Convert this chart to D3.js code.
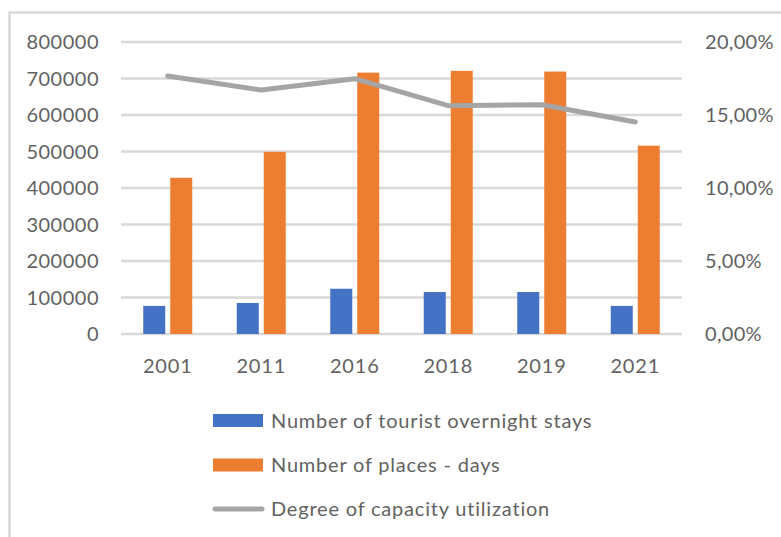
<!DOCTYPE html>
<html>
<head>
<meta charset="utf-8">
<script src="https://cdn.jsdelivr.net/npm/d3@7"></script>
<style>
  html, body { margin: 0; padding: 0; background: #fff; }
  svg { display: block; }
  text { font-family: Lato, "Open Sans", sans-serif; fill: #626262; }
</style>
</head>
<body>
<svg id="chart" width="781" height="537"></svg>
<script>
const years = ["2001", "2011", "2016", "2018", "2019", "2021"];
const overnightStays = [77000, 85000, 124000, 115000, 115000, 77000];
const placesDays = [428000, 499000, 716000, 721000, 719000, 516000];
const capacityUtil = [0.1767, 0.1671, 0.1749, 0.1564, 0.1570, 0.1452];
const leftTicks = [0, 100000, 200000, 300000, 400000, 500000, 600000, 700000, 800000];
const rightTicks = [0, 0.05, 0.10, 0.15, 0.20];
const seriesNames = ["Number of tourist overnight stays", "Number of places - days", "Degree of capacity utilization"];
const colors = ["#4472C4", "#ED7D31", "#A5A5A5"];

const svg = d3.select("#chart");
const W = 781, H = 537;
const plot = { left: 121, right: 682, top: 42, bottom: 334 };

// outer chart border (only top and left visible)
svg.append("rect")
  .attr("x", 9.5).attr("y", 12.5)
  .attr("width", W + 20).attr("height", H + 20)
  .attr("fill", "none").attr("stroke", "#d9d9d9").attr("stroke-width", 2.5);

const x = d3.scaleBand().domain(years).range([plot.left, plot.right]).paddingInner(0).paddingOuter(0);
const yL = d3.scaleLinear().domain([0, 800000]).range([plot.bottom, plot.top]);
const yR = d3.scaleLinear().domain([0, 0.20]).range([plot.bottom, plot.top]);
const xs = d3.scaleBand().domain([0, 1]).range([-24.5, 24.5]).paddingInner(5 / 27).paddingOuter(0);

// gridlines
svg.append("g").selectAll("line").data(leftTicks).join("line")
  .attr("x1", plot.left).attr("x2", plot.right)
  .attr("y1", d => yL(d)).attr("y2", d => yL(d))
  .attr("stroke", "#d9d9d9").attr("stroke-width", 2.5);

// left axis labels
const fmtL = d3.format("d");
svg.append("g").selectAll("text").data(leftTicks).join("text")
  .attr("x", 99).attr("y", d => yL(d) + 7)
  .attr("text-anchor", "end").attr("font-size", 20).attr("letter-spacing", 0.5)
  .text(d => fmtL(d));

// right axis labels
const fmtR = d => (d * 100).toFixed(2).replace(".", ",") + "%";
svg.append("g").selectAll("text").data(rightTicks).join("text")
  .attr("x", 705).attr("y", d => yR(d) + 7)
  .attr("text-anchor", "start").attr("font-size", 20).attr("letter-spacing", 0.3)
  .text(fmtR);

// x labels
svg.append("g").selectAll("text").data(years).join("text")
  .attr("x", d => x(d) + x.bandwidth() / 2).attr("y", 373)
  .attr("text-anchor", "middle").attr("font-size", 20).attr("letter-spacing", 0.8)
  .text(d => d);

// bars
const barSeries = [overnightStays, placesDays];
barSeries.forEach((vals, si) => {
  svg.append("g").selectAll("rect").data(years).join("rect")
    .attr("x", (d) => x(d) + x.bandwidth() / 2 + xs(si))
    .attr("width", xs.bandwidth())
    .attr("y", (d, i) => yL(vals[i]))
    .attr("height", (d, i) => yL(0) - yL(vals[i]))
    .attr("fill", colors[si]);
});

// line
const line = d3.line()
  .x((d, i) => x(years[i]) + x.bandwidth() / 2)
  .y(d => yR(d));
svg.append("path").datum(capacityUtil)
  .attr("d", line)
  .attr("fill", "none").attr("stroke", colors[2])
  .attr("stroke-width", 5).attr("stroke-linecap", "round").attr("stroke-linejoin", "round");

// legend
const legendY = [420.5, 465, 509];
const lg = svg.append("g");
seriesNames.forEach((name, i) => {
  if (i < 2) {
    lg.append("rect").attr("x", 213).attr("y", legendY[i] - 6.5)
      .attr("width", 50).attr("height", 13).attr("fill", colors[i]);
  } else {
    lg.append("line").attr("x1", 215).attr("x2", 262)
      .attr("y1", legendY[i]).attr("y2", legendY[i])
      .attr("stroke", colors[i]).attr("stroke-width", 5).attr("stroke-linecap", "round");
  }
  lg.append("text").attr("x", 271).attr("y", legendY[i] + 7)
    .attr("font-size", 20).attr("letter-spacing", 0.8).text(name);
});
</script>
</body>
</html>
